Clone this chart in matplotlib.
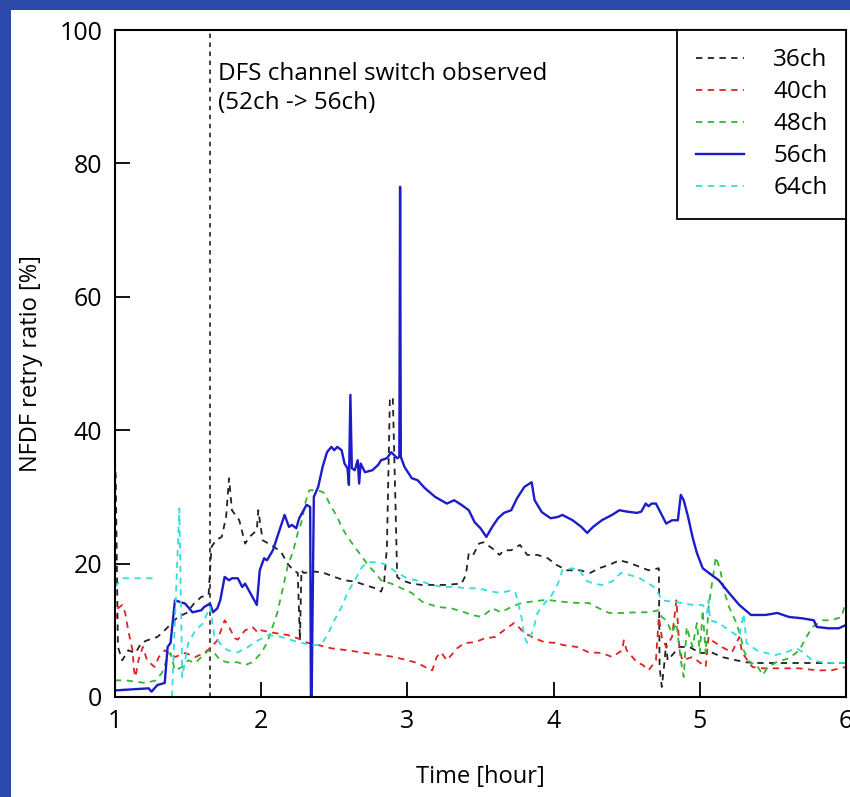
import numpy as np
import matplotlib.pyplot as plt
from matplotlib.patches import Rectangle

plt.rcParams['font.family'] = ['Open Sans', 'DejaVu Sans']

# --- data (hour, retry ratio %) ---
hour_56 = [1.01, 1.23, 1.25, 1.29, 1.34, 1.36, 1.38, 1.41, 1.48, 1.53,
           1.59, 1.61, 1.65, 1.67, 1.70, 1.72, 1.75, 1.78, 1.80, 1.84,
           1.87, 1.89, 1.94, 1.97, 1.99, 2.02, 2.04, 2.08, 2.11, 2.16,
           2.19, 2.21, 2.24, 2.26, 2.31, 2.335, 2.34, 2.345, 2.36, 2.39,
           2.42, 2.45, 2.48, 2.50, 2.52, 2.55, 2.57, 2.59, 2.60, 2.61,
           2.62, 2.64, 2.66, 2.67, 2.68, 2.71, 2.76, 2.80, 2.82, 2.86,
           2.89, 2.93, 2.945, 2.95, 2.955, 2.98, 3.03, 3.07, 3.12, 3.19,
           3.27, 3.32, 3.37, 3.42, 3.46, 3.50, 3.54, 3.58, 3.62, 3.66,
           3.71, 3.75, 3.80, 3.85, 3.87, 3.92, 3.98, 4.03, 4.06, 4.13,
           4.19, 4.23, 4.27, 4.33, 4.40, 4.45, 4.50, 4.57, 4.60, 4.63,
           4.65, 4.67, 4.70, 4.74, 4.77, 4.81, 4.85, 4.87, 4.89, 4.92,
           4.95, 4.98, 5.02, 5.08, 5.13, 5.20, 5.27, 5.35, 5.45, 5.53,
           5.61, 5.70, 5.78, 5.80, 5.88, 5.95, 6.0]
ratio_56 = [1.0, 1.3, 0.8, 1.8, 2.1, 7.5, 8.1, 14.5, 14.0, 12.7,
            13.0, 13.5, 14.0, 12.7, 13.3, 14.5, 18.0, 17.5, 17.8, 17.8,
            16.5, 17.0, 15.0, 13.8, 19.0, 20.8, 20.5, 22.0, 24.0, 27.3,
            25.5, 25.8, 25.3, 26.8, 28.8, 28.5, 0.0, 0.0, 30.0, 31.5,
            34.5, 36.7, 37.5, 37.0, 37.5, 37.0, 35.0, 34.3, 31.8, 45.3,
            34.3, 34.0, 35.5, 32.0, 35.0, 33.7, 34.0, 34.8, 35.5, 35.8,
            36.7, 35.8, 36.0, 76.5, 36.0, 34.5, 32.8, 32.5, 31.3, 30.0,
            29.0, 29.5, 28.8, 28.0, 26.2, 25.3, 24.0, 25.5, 26.8, 27.6,
            28.0, 29.8, 31.5, 32.2, 29.5, 27.7, 26.8, 27.0, 27.3, 26.5,
            25.5, 24.6, 25.5, 26.5, 27.3, 28.0, 27.8, 27.6, 27.8, 29.0,
            28.6, 29.0, 29.0, 27.3, 26.0, 26.5, 26.5, 30.3, 29.5, 27.0,
            24.0, 21.6, 19.3, 18.3, 17.5, 15.6, 13.8, 12.3, 12.3, 12.6,
            12.0, 11.8, 11.5, 10.5, 10.3, 10.3, 10.8]

hour_36 = [1.00, 1.005, 1.02, 1.05, 1.09, 1.14, 1.18, 1.22, 1.29, 1.34,
           1.39, 1.43, 1.49, 1.54, 1.59, 1.64, 1.66, 1.69, 1.73, 1.76,
           1.78, 1.80, 1.85, 1.89, 1.92, 1.97, 1.98, 2.01, 2.05, 2.09,
           2.14, 2.18, 2.22, 2.25, 2.265, 2.275, 2.29, 2.37, 2.43, 2.50,
           2.57, 2.64, 2.71, 2.78, 2.82, 2.84, 2.86, 2.88, 2.90, 2.92,
           2.93, 2.96, 3.03, 3.10, 3.17, 3.25, 3.37, 3.40, 3.42, 3.45,
           3.49, 3.52, 3.58, 3.63, 3.66, 3.71, 3.77, 3.82, 3.89, 3.96,
           4.02, 4.09, 4.18, 4.25, 4.31, 4.38, 4.45, 4.52, 4.59, 4.65,
           4.72, 4.725, 4.74, 4.755, 4.77, 4.78, 4.82, 4.86, 4.93, 5.00,
           5.04, 5.08, 5.15, 5.25, 5.32, 5.40, 5.50, 5.61, 5.73, 5.84,
           5.93, 6.0]
ratio_36 = [35.5, 33.0, 7.5, 5.5, 7.0, 6.6, 8.1, 8.5, 9.0, 10.0,
            11.1, 12.0, 12.6, 14.0, 15.0, 15.3, 22.5, 23.5, 24.0, 27.0,
            32.8, 28.0, 26.5, 23.0, 24.0, 25.0, 28.0, 23.5, 23.0, 22.5,
            21.6, 20.0, 19.0, 18.6, 8.5, 19.0, 18.6, 18.8, 18.6, 18.0,
            17.5, 17.3, 16.8, 16.3, 15.8, 17.0, 22.5, 44.5, 45.0, 27.6,
            18.0, 17.5, 17.0, 16.8, 16.8, 16.8, 17.0, 18.3, 21.6, 21.3,
            23.0, 23.2, 22.3, 21.3, 22.0, 22.0, 22.8, 21.3, 21.3, 20.8,
            19.8, 19.0, 19.0, 18.6, 19.3, 19.8, 20.5, 20.1, 19.5, 19.0,
            19.3, 4.5, 1.5, 4.5, 8.0, 5.5, 6.5, 7.5, 7.5, 6.6,
            6.6, 6.7, 6.0, 5.5, 5.2, 5.1, 5.1, 5.1, 5.1, 5.1,
            5.1, 5.1]

hour_40 = [1.00, 1.02, 1.05, 1.07, 1.09, 1.12, 1.13, 1.14, 1.16, 1.19,
           1.22, 1.27, 1.30, 1.34, 1.37, 1.41, 1.48, 1.55, 1.61, 1.66,
           1.70, 1.75, 1.78, 1.82, 1.84, 1.89, 1.94, 1.98, 2.00, 2.09,
           2.18, 2.25, 2.32, 2.39, 2.48, 2.59, 2.71, 2.82, 2.91, 3.00,
           3.07, 3.12, 3.17, 3.20, 3.23, 3.27, 3.34, 3.39, 3.46, 3.53,
           3.60, 3.66, 3.73, 3.76, 3.80, 3.87, 3.94, 4.03, 4.06, 4.16,
           4.24, 4.33, 4.40, 4.47, 4.48, 4.50, 4.57, 4.61, 4.65, 4.70,
           4.72, 4.74, 4.77, 4.81, 4.84, 4.86, 4.88, 4.95, 5.04, 5.06,
           5.08, 5.15, 5.22, 5.27, 5.29, 5.36, 5.43, 5.56, 5.68, 5.80,
           5.90, 6.0]
ratio_40 = [11.5, 13.3, 13.8, 12.6, 10.0, 7.0, 4.0, 3.0, 5.5, 7.5,
            5.5, 4.5, 6.0, 7.0, 6.6, 6.0, 6.6, 6.0, 6.6, 7.5,
            8.5, 11.5, 10.5, 8.8, 8.6, 10.0, 10.5, 9.6, 10.0, 9.6,
            9.3, 8.8, 8.1, 7.8, 7.3, 7.0, 6.6, 6.3, 6.0, 5.5,
            5.1, 4.5, 4.0, 6.0, 6.7, 5.5, 7.3, 8.1, 8.2, 8.8,
            9.0, 10.0, 11.1, 10.5, 9.6, 8.8, 8.2, 8.1, 7.8, 7.5,
            6.7, 6.6, 6.0, 7.0, 8.5, 7.0, 5.2, 4.8, 4.0, 5.5,
            12.0, 9.0, 7.5, 9.0, 14.5, 7.5, 5.5, 6.0, 4.5, 9.0,
            8.5, 7.5, 6.7, 9.0, 6.6, 4.5, 4.3, 4.3, 4.3, 4.0,
            4.0, 4.5]

hour_48 = [1.00, 1.07, 1.14, 1.21, 1.28, 1.32, 1.36, 1.38, 1.41, 1.46,
           1.50, 1.55, 1.59, 1.64, 1.68, 1.72, 1.77, 1.84, 1.89, 1.94,
           2.00, 2.04, 2.07, 2.11, 2.15, 2.18, 2.22, 2.25, 2.28, 2.30,
           2.33, 2.39, 2.43, 2.48, 2.52, 2.55, 2.59, 2.64, 2.69, 2.73,
           2.78, 2.82, 2.89, 2.96, 3.03, 3.10, 3.12, 3.21, 3.30, 3.39,
           3.44, 3.51, 3.58, 3.64, 3.71, 3.78, 3.85, 3.92, 3.98, 4.05,
           4.16, 4.24, 4.31, 4.38, 4.47, 4.57, 4.65, 4.72, 4.74, 4.77,
           4.81, 4.84, 4.87, 4.89, 4.91, 4.95, 4.98, 5.00, 5.02, 5.04,
           5.06, 5.10, 5.11, 5.14, 5.17, 5.20, 5.25, 5.28, 5.30, 5.34,
           5.39, 5.43, 5.46, 5.52, 5.61, 5.68, 5.73, 5.77, 5.84, 5.90,
           5.97, 6.0]
ratio_48 = [2.5, 2.5, 2.3, 2.1, 2.5, 3.6, 6.0, 6.6, 4.0, 4.5,
            5.5, 5.1, 6.0, 7.0, 6.6, 5.5, 5.2, 5.2, 4.8, 5.2,
            6.6, 8.1, 10.0, 12.6, 16.5, 19.5, 22.0, 24.6, 26.5, 29.0,
            31.0, 31.0, 30.6, 28.5, 27.0, 25.5, 24.0, 22.5, 21.0, 19.8,
            18.6, 17.5, 17.0, 16.3, 15.6, 14.3, 14.1, 13.5, 13.3, 12.7,
            12.3, 12.0, 13.3, 12.7, 13.5, 14.1, 14.3, 14.5, 14.5, 14.3,
            14.1, 14.1, 13.3, 12.6, 12.6, 12.7, 12.7, 13.0, 12.0, 11.5,
            9.6, 11.1, 5.5, 3.0, 10.5, 7.5, 11.1, 6.6, 13.0, 6.5,
            13.5, 19.5, 21.0, 19.0, 15.6, 13.5, 11.1, 9.0, 7.0, 5.2,
            4.8, 3.3, 4.3, 5.2, 5.8, 7.0, 9.0, 10.5, 11.5, 11.5,
            12.0, 14.5]

hour_64 = [1.00, 1.05, 1.15, 1.26, 1.30, 1.39, 1.44, 1.46, 1.50, 1.55,
           1.60, 1.65, 1.68, 1.72, 1.77, 1.84, 1.91, 1.98, 2.05, 2.14,
           2.21, 2.28, 2.35, 2.41, 2.46, 2.50, 2.55, 2.59, 2.64, 2.69,
           2.73, 2.80, 2.86, 2.93, 3.00, 3.10, 3.14, 3.23, 3.32, 3.41,
           3.48, 3.58, 3.64, 3.71, 3.74, 3.78, 3.80, 3.82, 3.86, 3.89,
           3.94, 3.98, 4.03, 4.06, 4.13, 4.18, 4.22, 4.27, 4.33, 4.40,
           4.46, 4.52, 4.59, 4.65, 4.70, 4.74, 4.81, 4.88, 4.95, 5.02,
           5.05, 5.06, 5.07, 5.13, 5.20, 5.27, 5.30, 5.32, 5.39, 5.45,
           5.52, 5.59, 5.66, 5.70, 5.77, 5.84, 5.90, 6.0]
ratio_64 = [16.5, 17.8, 17.8, 17.8, np.nan, 0.0, 28.3, 3.0, 8.0, 10.0,
            11.0, 13.5, 9.0, 8.0, 7.0, 6.7, 7.5, 8.5, 9.3, 9.0,
            8.5, 8.1, 7.8, 7.8, 9.6, 11.5, 13.5, 15.6, 17.5, 19.5,
            20.2, 20.2, 19.8, 18.6, 17.8, 17.3, 17.0, 16.5, 16.5, 16.3,
            16.3, 15.8, 15.6, 16.0, 15.6, 12.0, 9.0, 8.1, 10.0, 12.6,
            14.1, 15.0, 17.0, 19.0, 19.3, 19.0, 17.5, 17.0, 16.8, 17.3,
            18.6, 18.3, 17.8, 17.0, 16.3, 14.5, 14.3, 14.1, 13.8, 13.8,
            12.6, 14.5, 11.5, 11.1, 10.0, 9.0, 12.5, 8.1, 7.0, 6.6,
            6.3, 6.7, 7.3, 6.8, 5.5, 5.2, 5.1, 5.1]

switch_hour = 1.65

fig = plt.figure(figsize=(8.5, 7.97), dpi=100, facecolor='#2b4aa9')
# white panel on the blue background, kept behind the axes
fig.patches.append(Rectangle((11 / 850, 0), 1, (797 - 10) / 797,
                             transform=fig.transFigure, facecolor='white',
                             edgecolor='none', zorder=-10))
ax = fig.add_axes([115 / 850, 100 / 797, 731 / 850, 667 / 797])
ax.set_facecolor('white')

dash = (0, (3.5, 3))
ax.axvline(switch_hour, color='#333333', lw=1.3, ls=(0, (2.5, 2.5)), zorder=1)
ax.plot(hour_36, ratio_36, color='#222222', lw=1.3, ls=dash, label='36ch')
ax.plot(hour_40, ratio_40, color='#dd2222', lw=1.3, ls=dash, label='40ch')
ax.plot(hour_48, ratio_48, color='#33b633', lw=1.3, ls=dash, label='48ch')
ax.plot(hour_56, ratio_56, color='#1c1cc8', lw=1.7, label='56ch')
ax.plot(hour_64, ratio_64, color='#33dddd', lw=1.3, ls=dash, label='64ch')

ax.text(switch_hour + 0.055, 95.2, 'DFS channel switch observed\n(52ch -> 56ch)',
        fontsize=17.5, va='top', ha='left', linespacing=1.3)

ax.set_xlim(1, 6)
ax.set_ylim(0, 100)
ax.set_xticks([1, 2, 3, 4, 5, 6])
ax.set_yticks([0, 20, 40, 60, 80, 100])
ax.tick_params(direction='in', length=11, width=1.3, labelsize=18, pad=9,
               top=False, right=False)
for s in ax.spines.values():
    s.set_linewidth(1.5)
ax.set_xlabel('Time [hour]', fontsize=17, labelpad=22)
ax.set_ylabel('NFDF retry ratio [%]', fontsize=17, labelpad=12)

leg = ax.legend(loc='upper right', bbox_to_anchor=(1, 1), borderaxespad=0,
                fontsize=17.5, frameon=True, fancybox=False, framealpha=1,
                edgecolor='black', handlelength=2.0, handletextpad=1.2,
                labelspacing=0.33, borderpad=0.75)
leg.get_frame().set_linewidth(1.3)

fig.savefig('out.png', dpi=100, facecolor=fig.get_facecolor())
